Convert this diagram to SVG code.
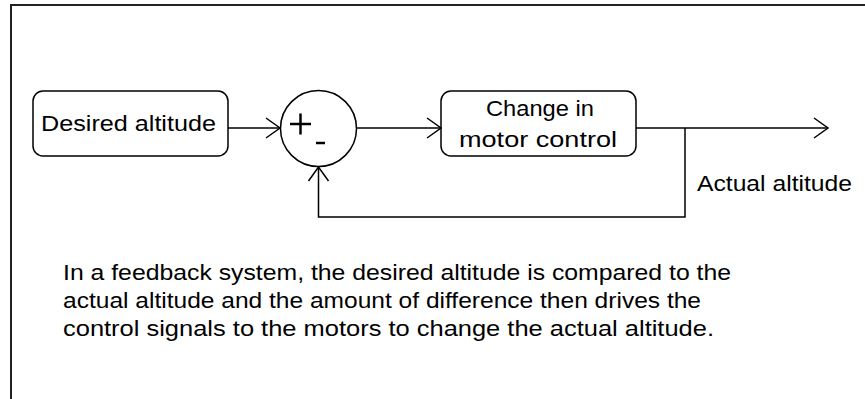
<svg xmlns="http://www.w3.org/2000/svg" width="865" height="399" viewBox="0 0 865 399">
<style>
.box{fill:#fff;stroke:#000;stroke-width:1.5}
.ln{fill:none;stroke:#000;stroke-width:1.5}
.t{font-family:"Liberation Sans",Arial,sans-serif;font-size:22px;fill:#000}
.frame{fill:none;stroke:#222;stroke-width:2}
</style>
<defs>
<marker id="arr" markerUnits="userSpaceOnUse" markerWidth="20" markerHeight="26" refX="15" refY="13" orient="auto">
<path d="M1,3 L15,13 L1,23" fill="none" stroke="#000" stroke-width="1.5"/>
</marker>
</defs>
<path class="frame" d="M10,5 H865 M11,5 V399"/>
<g id="desired">
<rect class="box" x="33" y="91" width="195" height="65" rx="10"/>
<text class="t" x="41" y="131" textLength="175" lengthAdjust="spacingAndGlyphs">Desired altitude</text>
</g>
<g id="sum">
<circle class="box" cx="318.5" cy="128.5" r="38"/>
<path d="M290,124 H311 M300.5,113.5 V134.5" stroke="#000" stroke-width="2.5"/>
<path d="M316,143 H325" stroke="#000" stroke-width="2.5"/>
</g>
<g id="motor">
<rect class="box" x="441" y="91" width="195" height="65" rx="10"/>
<text class="t" x="540" y="116" text-anchor="middle" textLength="108" lengthAdjust="spacingAndGlyphs">Change in</text>
<text class="t" x="538" y="147" text-anchor="middle" textLength="158" lengthAdjust="spacingAndGlyphs">motor control</text>
</g>
<g id="connectors">
<path class="ln" d="M228,128 H280" marker-end="url(#arr)"/>
<path class="ln" d="M357,128 H441" marker-end="url(#arr)"/>
<path class="ln" d="M636,128 H828" marker-end="url(#arr)"/>
<path class="ln" d="M685,128 V217 H318.5 V167" marker-end="url(#arr)"/>
</g>
<g id="label">
<text class="t" x="697" y="191" textLength="155" lengthAdjust="spacingAndGlyphs">Actual altitude</text>
</g>
<g id="caption">
<text class="t" x="63" y="280" textLength="668" lengthAdjust="spacingAndGlyphs">In a feedback system, the desired altitude is compared to the</text>
<text class="t" x="63" y="308" textLength="638" lengthAdjust="spacingAndGlyphs">actual altitude and the amount of difference then drives the</text>
<text class="t" x="63" y="336" textLength="651" lengthAdjust="spacingAndGlyphs">control signals to the motors to change the actual altitude.</text>
</g>
</svg>
